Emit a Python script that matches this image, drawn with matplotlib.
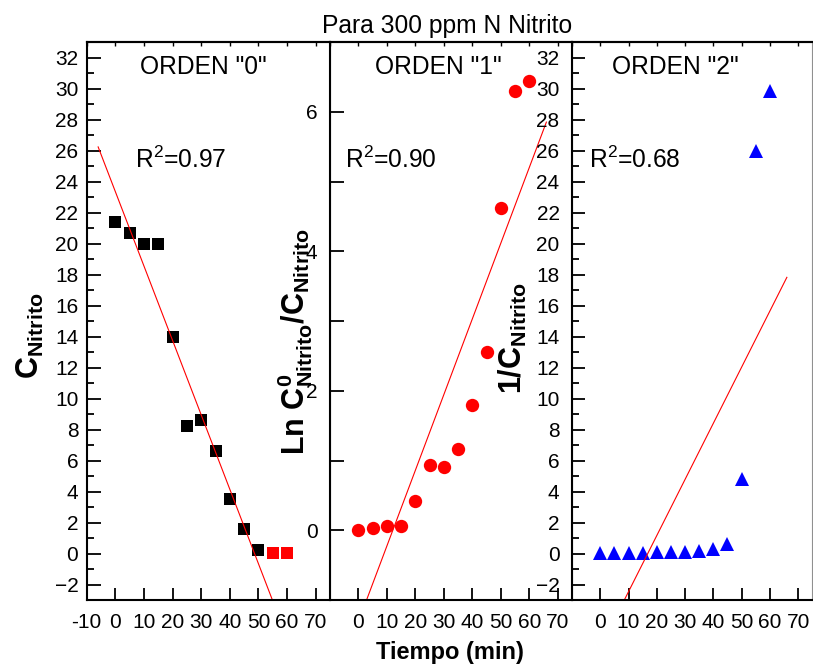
import numpy as np
import matplotlib
matplotlib.use("Agg")
import matplotlib.pyplot as plt
from matplotlib.ticker import MultipleLocator, FixedLocator, FuncFormatter

plt.rcParams['font.family'] = ['Liberation Sans', 'DejaVu Sans']
plt.rcParams['mathtext.fontset'] = 'custom'
plt.rcParams['mathtext.rm'] = 'Liberation Sans'
plt.rcParams['mathtext.bf'] = 'Liberation Sans:bold'
plt.rcParams['mathtext.it'] = 'Liberation Sans:italic'
plt.rcParams['mathtext.default'] = 'regular'

# ---- data ----
tiempo = [0, 5, 10, 15, 20, 25, 30, 35, 40, 45, 50, 55, 60]
c_nitrito = [21.4, 20.7, 20.0, 20.0, 14.0, 8.2, 8.6, 6.6, 3.5, 1.6, 0.2]
c_nitrito_excl_t = [55, 60]
c_nitrito_excl = [0.05, 0.05]
ln_ratio = [0.0, 0.03, 0.06, 0.06, 0.42, 0.94, 0.90, 1.17, 1.80, 2.56, 4.62, 6.30, 6.44]
inv_c = [0.047, 0.048, 0.05, 0.05, 0.071, 0.12, 0.116, 0.15, 0.29, 0.62, 4.8, 25.95, 29.85]
r2_labels = ["0.97", "0.90", "0.68"]
orden_labels = ['ORDEN "0"', 'ORDEN "1"', 'ORDEN "2"']
fit_range = [-6, 66]
xticks = [-10, 0, 10, 20, 30, 40, 50, 60, 70]

W, H = 813, 666
fig = plt.figure(figsize=(W / 100, H / 100), dpi=100)

def fx(px):
    return px / W

def fy(py):
    return 1 - py / H

top, bot = 42, 600
edges = [86.7, 330.0, 572.0, 812.3]
axes = []
for i in range(3):
    ax = fig.add_axes([fx(edges[i]), fy(bot), fx(edges[i + 1] - edges[i]), (bot - top) / H])
    ax.set_facecolor('none')
    axes.append(ax)

TICKFS = 15
for i, ax in enumerate(axes):
    ax.set_xlim(-10, 75)
    for s in ['left', 'bottom', 'top']:
        ax.spines[s].set_linewidth(1.5)
    ax.spines['right'].set_linewidth(0.8)
    ax.spines['right'].set_color('#909090')
    ax.xaxis.set_major_locator(FixedLocator(xticks))
    if i == 0:
        ax.xaxis.set_major_formatter(FuncFormatter(lambda v, p: f"{int(v)}"))
    else:
        ax.xaxis.set_major_formatter(FuncFormatter(lambda v, p: "" if v < 0 else f"{int(v)}"))
    ax.tick_params(axis='x', which='major', direction='in', length=9, width=1.3,
                   labelsize=TICKFS, pad=9, top=False)
    sec = ax.secondary_xaxis('top')
    sec.xaxis.set_major_locator(FixedLocator(xticks))
    sec.tick_params(direction='in', length=3, width=1.0, labeltop=False)
    sec.spines['top'].set_linewidth(1.5)

# Panel 1
ax1 = axes[0]
ax1.set_ylim(-3, 33)
ax1.yaxis.set_major_locator(MultipleLocator(2))
ax1.yaxis.set_minor_locator(MultipleLocator(1))
ax1.tick_params(axis='y', which='major', direction='in', length=10, width=1.3, labelsize=TICKFS, pad=6)
ax1.tick_params(axis='y', which='minor', direction='in', length=5, width=1.3)
ax1.plot(tiempo[:len(c_nitrito)], c_nitrito, 's', color='black', markersize=8.3, markeredgewidth=0)
ax1.plot(c_nitrito_excl_t, c_nitrito_excl, 's', color='red', markersize=8.3, markeredgewidth=0)
p = np.polyfit(tiempo[:len(c_nitrito)], c_nitrito, 1)
xf = np.array(fit_range, dtype=float)
ax1.plot(xf, np.polyval(p, xf), color='red', linewidth=0.8)

# Panel 2
ax2 = axes[1]
ax2.set_ylim(-1, 7)
ax2.yaxis.set_major_locator(MultipleLocator(2))
ax2.yaxis.set_minor_locator(MultipleLocator(1))
ax2.yaxis.set_major_formatter(FuncFormatter(lambda v, p: f"{int(v)}"))
ax2.tick_params(axis='y', which='major', direction='in', length=10, width=1.3, labelsize=TICKFS, pad=9)
ax2.tick_params(axis='y', which='minor', direction='in', length=10, width=1.3)
ax2.plot(tiempo, ln_ratio, 'o', color='red', markersize=9.6, markeredgewidth=0)
p = np.polyfit(tiempo, ln_ratio, 1)
ax2.plot(xf, np.polyval(p, xf), color='red', linewidth=0.8)

# Panel 3
ax3 = axes[2]
ax3.set_ylim(-3, 33)
ax3.yaxis.set_major_locator(MultipleLocator(2))
ax3.yaxis.set_minor_locator(MultipleLocator(1))
ax3.tick_params(axis='y', which='major', direction='in', length=9, width=1.3, labelsize=TICKFS, pad=9)
ax3.tick_params(axis='y', which='minor', direction='in', length=5, width=1.3)
ax3.plot(tiempo, inv_c, '^', color='#0000ff', markersize=10.5, markeredgewidth=0)
p = np.polyfit(tiempo, inv_c, 1)
ax3.plot(xf, np.polyval(p, xf), color='red', linewidth=0.8)

# texts
TXTFS = 17.7
orden_x = [0.478, 0.449, 0.429]
r2_x = [0.1985, 0.062, 0.072]
for i, ax in enumerate(axes):
    ax.text(orden_x[i], 0.943, orden_labels[i], transform=ax.transAxes, ha='center', va='baseline', fontsize=TXTFS)
    ax.text(r2_x[i], 0.774, r"R$^{2}$=" + r2_labels[i], transform=ax.transAxes, ha='left', va='baseline', fontsize=TXTFS)

fig.text(fx(447), fy(33.3), "Para 300 ppm N Nitrito", ha='center', va='baseline', fontsize=TXTFS)
fig.text(fx(450), fy(659), "Tiempo (min)", ha='center', va='baseline', fontsize=17, fontweight='bold')

YLFS = 22
fig.text(fx(30), fy(336), r"$\mathbf{C_{Nitrito}}$", rotation=90, ha='center', va='center', fontsize=YLFS)
fig.text(fx(295), fy(342), r"$\mathbf{Ln\ C^{0}_{Nitrito}/C_{Nitrito}}$", rotation=90, ha='center', va='center', fontsize=YLFS)
fig.text(fx(513), fy(338), r"$\mathbf{1/C_{Nitrito}}$", rotation=90, ha='center', va='center', fontsize=YLFS)

fig.savefig("out.png", dpi=100)
